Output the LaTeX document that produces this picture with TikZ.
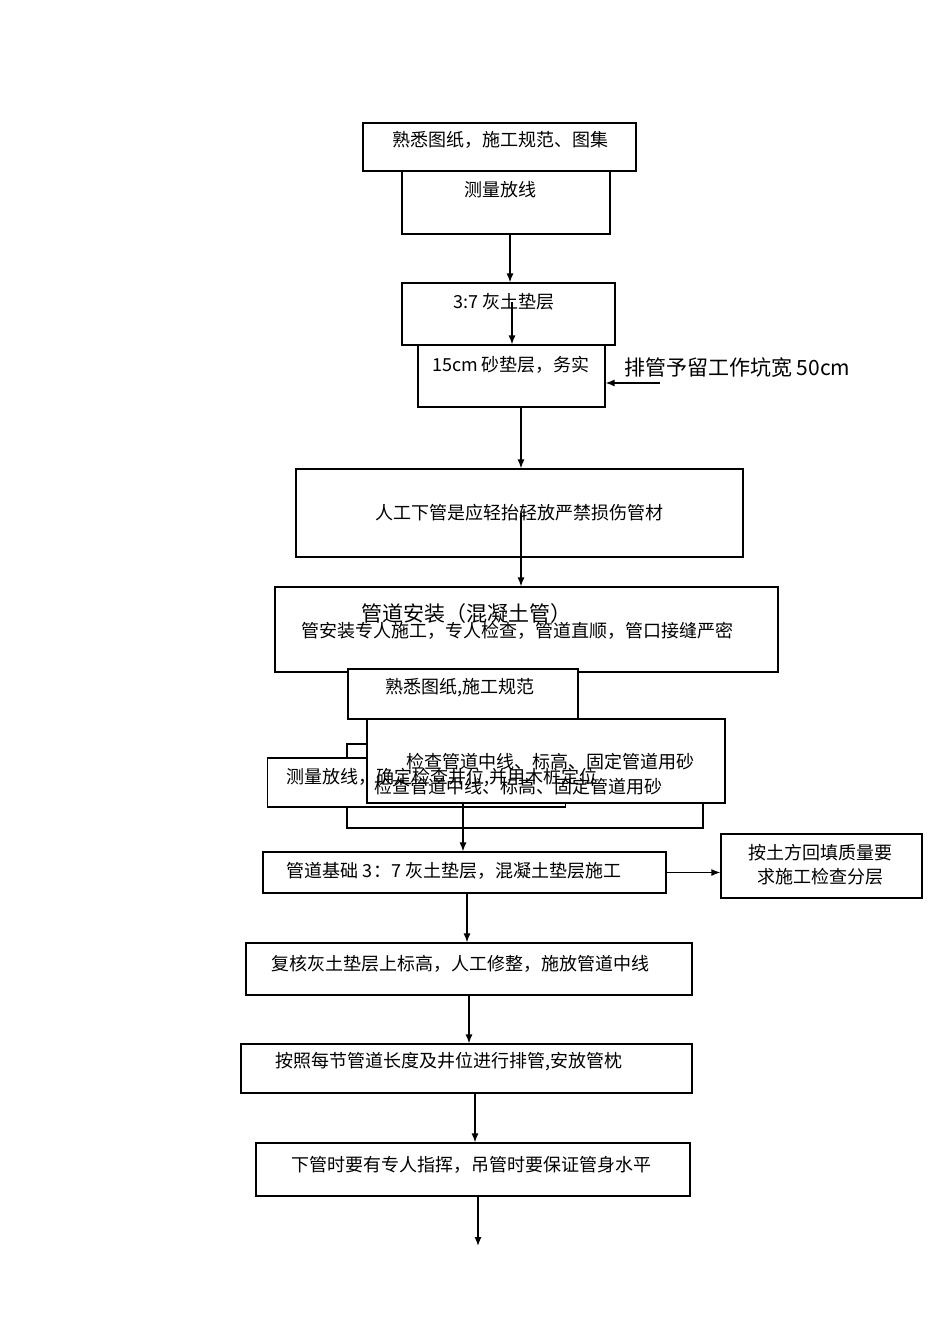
\documentclass[tikz,border=0pt]{standalone}
\usepackage{fontspec}
\setmainfont{Liberation Serif}
\newfontfamily\cjk{Noto Sans CJK SC}
\usetikzlibrary{arrows.meta}
\begin{document}
\begin{tikzpicture}[x=1pt,y=-1pt,
  box/.style={draw,line width=1.2pt,inner sep=0pt,fill=white},
  txt/.style={font=\cjk\fontsize{18}{20}\selectfont,inner sep=0pt},
  big/.style={font=\cjk\fontsize{21}{24}\selectfont,inner sep=0pt},
  arr/.style={line width=1.3pt,-{Latex[length=9pt,width=7pt]}}]
\useasboundingbox (0,0) rectangle (950,1344);
\node[box,minimum width=273pt,minimum height=48pt] (b1) at (499.5,147) {};
\node[box,minimum width=208pt,minimum height=63pt] (b2) at (506,202.5) {};
\node[box,minimum width=213pt,minimum height=62pt] (b3) at (508.5,314) {};
\node[box,minimum width=187pt,minimum height=62pt] (b4) at (511.5,376) {};
\node[box,minimum width=447pt,minimum height=88pt] (b5) at (519.5,513) {};
\node[box,minimum width=503pt,minimum height=85pt] (b6) at (526.5,629.5) {};
\node[box,minimum width=230pt,minimum height=50pt] (b7) at (463,694) {};
\node[box,minimum width=356pt,minimum height=84pt] (b8) at (525,786) {};
\node[box,minimum width=298pt,minimum height=49pt] (b9) at (416.5,782.5) {};
\node[box,minimum width=358pt,minimum height=84pt] (b10) at (546,761) {};
\node[box,minimum width=403pt,minimum height=41pt] (b11) at (464.5,872.5) {};
\node[box,minimum width=201pt,minimum height=64pt] (b12) at (821.5,866) {};
\node[box,minimum width=446pt,minimum height=52pt] (b13) at (469,969) {};
\node[box,minimum width=451pt,minimum height=49pt] (b14) at (466.5,1068.5) {};
\node[box,minimum width=434pt,minimum height=53pt] (b15) at (473,1169.5) {};

\node[txt] (t1) at (500,140) {熟悉图纸，施工规范、图集};
\node[txt] (t2) at (500,190) {测量放线};
\node[txt] (t3) at (504,302) {3:7 灰土垫层};
\node[txt] (t4) at (511,365) {15cm 砂垫层，务实};
\node[big,anchor=west] (lab) at (624,368) {排管予留工作坑宽 50cm};
\node[txt] (t5) at (519,513) {人工下管是应轻抬轻放严禁损伤管材};
\node[big] (t6a) at (466,614) {管道安装（混凝土管）};
\node[txt] (t6b) at (517,631) {管安装专人施工，专人检查，管道直顺，管口接缝严密};
\node[txt] (t7) at (460,688) {熟悉图纸,施工规范};
\node[txt,anchor=west] (t9) at (286,778) {测量放线，确定检查井位,并用木桩定位};
\node[txt] (t10) at (550,762) {检查管道中线、标高、固定管道用砂};
\node[txt] (t8) at (518,787) {检查管道中线、标高、固定管道用砂};
\node[txt] (t11) at (454,871) {管道基础 3：7 灰土垫层，混凝土垫层施工};
\node[txt,align=center] (t12) at (820,865) {按土方回填质量要\\[4pt]求施工检查分层};
\node[txt] (t13) at (460,964) {复核灰土垫层上标高，人工修整，施放管道中线};
\node[txt] (t14) at (449,1062) {按照每节管道长度及井位进行排管,安放管枕};
\node[txt] (t15) at (471,1165) {下管时要有专人指挥，吊管时要保证管身水平};

\coordinate (e) at (478,1246);
\coordinate (lf) at (660,383);
\draw[arr] (b2.south -| 510,0) -- (b3.north -| 510,0);
\draw[arr] (512,302) -- (b4.north -| 512,0);
\draw[arr] (b4.south -| 521,0) -- (b5.north -| 521,0);
\draw[arr] (lf) -- (lf -| b4.east);
\draw[arr] (521,513) -- (b6.north -| 521,0);
\draw[arr] (b10.south -| 463,0) -- (b11.north -| 463,0);
\draw[arr] (b11.east) -- (b12.west |- b11.east);
\draw[arr] (b11.south -| 467,0) -- (b13.north -| 467,0);
\draw[arr] (b13.south -| 469,0) -- (b14.north -| 469,0);
\draw[arr] (b14.south -| 475,0) -- (b15.north -| 475,0);
\draw[arr] (b15.south -| 478,0) -- (e);
\end{tikzpicture}
\end{document}
